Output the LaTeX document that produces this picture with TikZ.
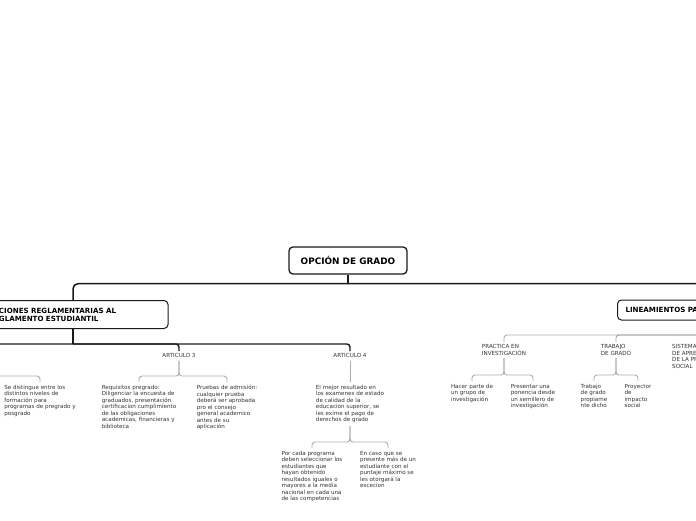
\documentclass[tikz,border=0pt]{standalone}
\usepackage{fontspec}
\setmainfont{DejaVu Sans}
\usepackage{xcolor}
\definecolor{mapInk}{HTML}{1A1A1A}
\definecolor{mapText}{HTML}{333333}
\tikzset{
  root/.style={draw=mapInk,line width=1.3pt,rounded corners=4pt,fill=white,
               font=\fontsize{8.9}{10}\selectfont\bfseries,minimum width=118pt,minimum height=27pt,inner sep=3pt},
  topic/.style={draw=mapInk,line width=1pt,rounded corners=4pt,fill=white,align=left,
                font=\fontsize{7.1}{8}\selectfont\bfseries,inner xsep=8pt,inner ysep=4pt},
  head/.style={align=left,font=\fontsize{5.6}{6.5}\selectfont,text=mapText,inner sep=2.5pt},
  leaf/.style={head,anchor=north,inner ysep=3pt,inner xsep=2pt},
  trunk/.style={draw=mapInk,line width=1.5pt,rounded corners=5pt},
  branch/.style={draw=mapInk,line width=1.4pt,rounded corners=3pt},
  twig/.style={draw=black,draw opacity=.32,line width=.9pt,rounded corners=3pt},
}

\begin{document}
\begin{tikzpicture}[x=1pt,y=-1pt]
  \path[use as bounding box] (0,0) rectangle (696,520);
  \clip (0,0) rectangle (696,520);

  % main topics
  \node[root] (root) at (348,260.5) {OPCIÓN DE GRADO};
  \node[topic,anchor=north,text width=174pt,minimum height=28pt] (lbox) at (73,300)
    {\hspace*{13pt}CIONES REGLAMENTARIAS AL\\\hspace*{13pt}GLAMENTO ESTUDIANTIL};
  \node[topic,anchor=west,text width=200pt,minimum height=20pt] (rbox) at (617,310) {LINEAMIENTOS PA};
  \draw[trunk] (root.south) -- ++(0,9) coordinate (rootj);
  \draw[trunk] (rootj) -| (lbox.north);
  \draw[trunk] (rootj) -| (rbox.north);

  % articulos
  \coordinate (art2) at (-40,356);
  \node[head,anchor=north] (art3) at (179,351) {ARTICULO 3};
  \node[head,anchor=north] (art4) at (350,351) {ARTICULO 4};
  \draw[branch] (lbox.south) -- ++(0,15) coordinate (lj);
  \draw[branch] (lj) -| (art3.north);
  \draw[branch] (lj) -| (art4.north);
  \draw[branch] (lj) -| (art2);

  \node[leaf] (sed) at (40,382) {Se distingue entre los\\distintos niveles de\\formación para\\programas de pregrado y\\posgrado};
  \node[leaf] (req) at (139,382) {Requisitos pregrado:\\Diligenciar la encuesta de\\graduados, presentación\\certificacion cumplimiento\\de las obligaciones\\academicas, financieras y\\biblioteca};
  \node[leaf] (pru) at (227,382) {Pruebas de admisión:\\cualquier prueba\\deberá ser aprobada\\pro el consejo\\general academico\\antes de su\\aplicación};
  \node[leaf] (mej) at (350,382) {El mejor resultado en\\los examenes de estado\\de calidad de la\\educacion superior, se\\les exime el pago de\\derechos de grado};
  \draw[twig] (art2) |- ([yshift=6pt]sed.north) -- (sed.north);
  \draw[twig] (art3.south) |- ([yshift=6pt]req.north) -- (req.north);
  \draw[twig] (art3.south) |- ([yshift=6pt]pru.north) -- (pru.north);
  \draw[twig] (art4.south) -- (mej.north);

  \node[leaf] (por) at (312,448) {Por cada programa\\deben seleccionar los\\estudiantes que\\hayan obtenido\\resultados iguales o\\mayores a la media\\nacional en cada una\\de las competencias};
  \node[leaf] (enc) at (388,448) {En caso que se\\presente más de un\\estudiante con el\\puntaje máximo se\\les otorgará la\\excecion};
  \draw[twig] (mej.south) |- ([yshift=6pt]por.north) -- (por.north);
  \draw[twig] (mej.south) |- ([yshift=6pt]enc.north) -- (enc.north);

  % lineamientos
  \node[head,anchor=north] (prac) at (504,342) {PRACTICA EN\\INVESTIGACIÓN};
  \node[head,anchor=north] (trab) at (616,342) {TRABAJO\\DE GRADO};
  \node[head,anchor=north west,text width=60pt] (sist) at (669.5,342) {SISTEMA\\DE APRE\\DE LA PR\\SOCIAL};
  \draw[twig] (rbox.south) |- ([yshift=7pt]prac.north) -- (prac.north);
  \draw[twig] (rbox.south) |- ([yshift=7pt]trab.north) -- (trab.north);
  \draw[twig] (rbox.south) |- ([yshift=7pt]sist.north) -- (sist.north);

  \node[leaf] (hac) at (472,381) {Hacer parte de\\un grupo de\\investigación};
  \node[leaf] (pre) at (533,381) {Presentar una\\ponencia desde\\un semillero de\\investigación};
  \node[leaf] (tra) at (594,381) {Trabajo\\de grado\\propiame\\nte dicho};
  \node[leaf] (pro) at (638,381) {Proyector\\de\\impacto\\social};
  \draw[twig] (prac.south) |- ([yshift=6pt]hac.north) -- (hac.north);
  \draw[twig] (prac.south) |- ([yshift=6pt]pre.north) -- (pre.north);
  \draw[twig] (trab.south) |- ([yshift=6pt]tra.north) -- (tra.north);
  \draw[twig] (trab.south) |- ([yshift=6pt]pro.north) -- (pro.north);
\end{tikzpicture}
\end{document}
